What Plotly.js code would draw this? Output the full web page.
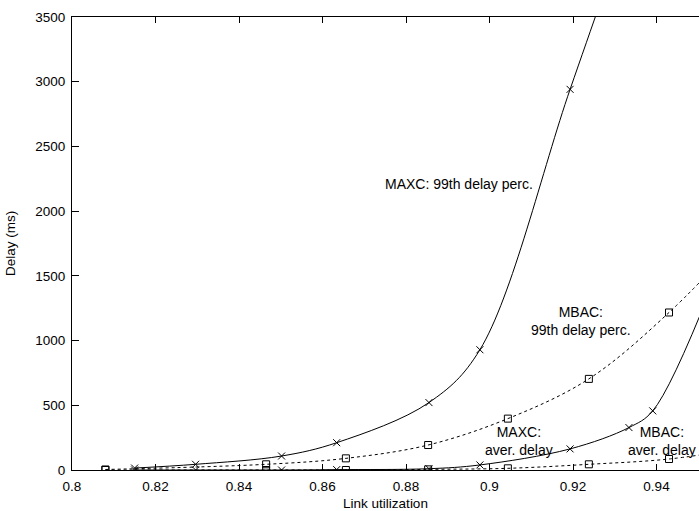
<!DOCTYPE html>
<html>
<head>
<meta charset="utf-8">
<script src="https://cdn.plot.ly/plotly-3.0.1.min.js"></script>
<style>html,body{margin:0;padding:0;background:#fff;}#chart{width:699px;height:511px;}</style>
</head>
<body>
<div id="chart"></div>
<script>
// MAXC (admission control) series
const maxcUtil = [0.815, 0.8296, 0.8502, 0.8634, 0.8855, 0.8977, 0.9193, 0.9334, 0.9391, 0.953];
const maxc99 = [15, 44, 108, 211, 521, 929, 2941, 4250, 4800, 6000];
const maxcAvg = [0, 0, 0, 3, 10, 39, 163, 328, 457, 1400];
// MBAC series
const mbacUtil = [0.808, 0.8465, 0.8656, 0.8853, 0.9044, 0.9238, 0.943, 0.962];
const mbac99 = [4, 44, 90, 193, 397, 704, 1217, 1850];
const mbacAvg = [0, 0, 0, 5, 13, 44, 85, 175];

const xTicks = [0.8, 0.82, 0.84, 0.86, 0.88, 0.9, 0.92, 0.94];
const xTickText = ['0.8', '0.82', '0.84', '0.86', '0.88', '0.9', '0.92', '0.94'];
const yTicks = [0, 500, 1000, 1500, 2000, 2500, 3000, 3500];

const labels = [
  {text: 'MAXC: 99th delay perc.', x: 0.8927, y: 2206},
  {text: 'MBAC:<br>99th delay perc.', x: 0.9218, y: 1153},
  {text: 'MAXC:<br>aver. delay', x: 0.9071, y: 224},
  {text: 'MBAC:<br>aver. delay', x: 0.9412, y: 224}
];

const FONT = '"Liberation Sans", Arial, Helvetica, sans-serif';

function tr(x, y, dash, sym) {
  return {
    x: x, y: y, type: 'scatter', mode: 'lines+markers',
    line: {color: '#000', width: 1, dash: dash, shape: 'spline', smoothing: 1},
    marker: {symbol: sym, size: 7, color: '#000', line: {color: '#000', width: 1}},
    cliponaxis: true, showlegend: false, hoverinfo: 'none'
  };
}

const data = [
  tr(mbacUtil, mbacAvg, '3px,3px', 'square-open'),
  tr(mbacUtil, mbac99, '3px,3px', 'square-open'),
  tr(maxcUtil, maxcAvg, 'solid', 'x-thin-open'),
  tr(maxcUtil, maxc99, 'solid', 'x-thin-open')
];

const layout = {
  width: 699, height: 511,
  margin: {l: 72, r: 0, t: 17, b: 41},
  paper_bgcolor: '#fff', plot_bgcolor: '#fff',
  font: {family: FONT, size: 13.5, color: '#000'},
  showlegend: false,
  xaxis: {
    range: [0.8, 0.95018], tickmode: 'array', tickvals: xTicks, ticktext: xTickText,
    ticks: 'inside', ticklen: 6, tickwidth: 1, tickcolor: '#000',
    showline: true, linecolor: '#000', linewidth: 1, mirror: 'ticks',
    showgrid: false, zeroline: false, ticklabelstandoff: 4,
    tickfont: {family: FONT, size: 13.5, color: '#000'},
    title: {text: 'Link utilization', font: {family: FONT, size: 13.5, color: '#000'}, standoff: 11}
  },
  yaxis: {
    range: [0, 3500], tickmode: 'array', tickvals: yTicks,
    ticks: 'inside', ticklen: 7, tickwidth: 1, tickcolor: '#000',
    showline: true, linecolor: '#000', linewidth: 1, mirror: false,
    showgrid: false, zeroline: false, ticklabelstandoff: 3,
    tickfont: {family: FONT, size: 13.5, color: '#000'},
    title: {text: 'Delay (ms)', font: {family: FONT, size: 13.5, color: '#000'}, standoff: 16}
  },
  annotations: labels.map(l => ({
    text: l.text, x: l.x, y: l.y, xref: 'x', yref: 'y',
    showarrow: false, xanchor: 'center', yanchor: 'middle', align: 'center',
    font: {family: FONT, size: 14, color: '#000'}
  }))
};

Plotly.newPlot('chart', data, layout, {staticPlot: true, displayModeBar: false});
</script>
</body>
</html>
